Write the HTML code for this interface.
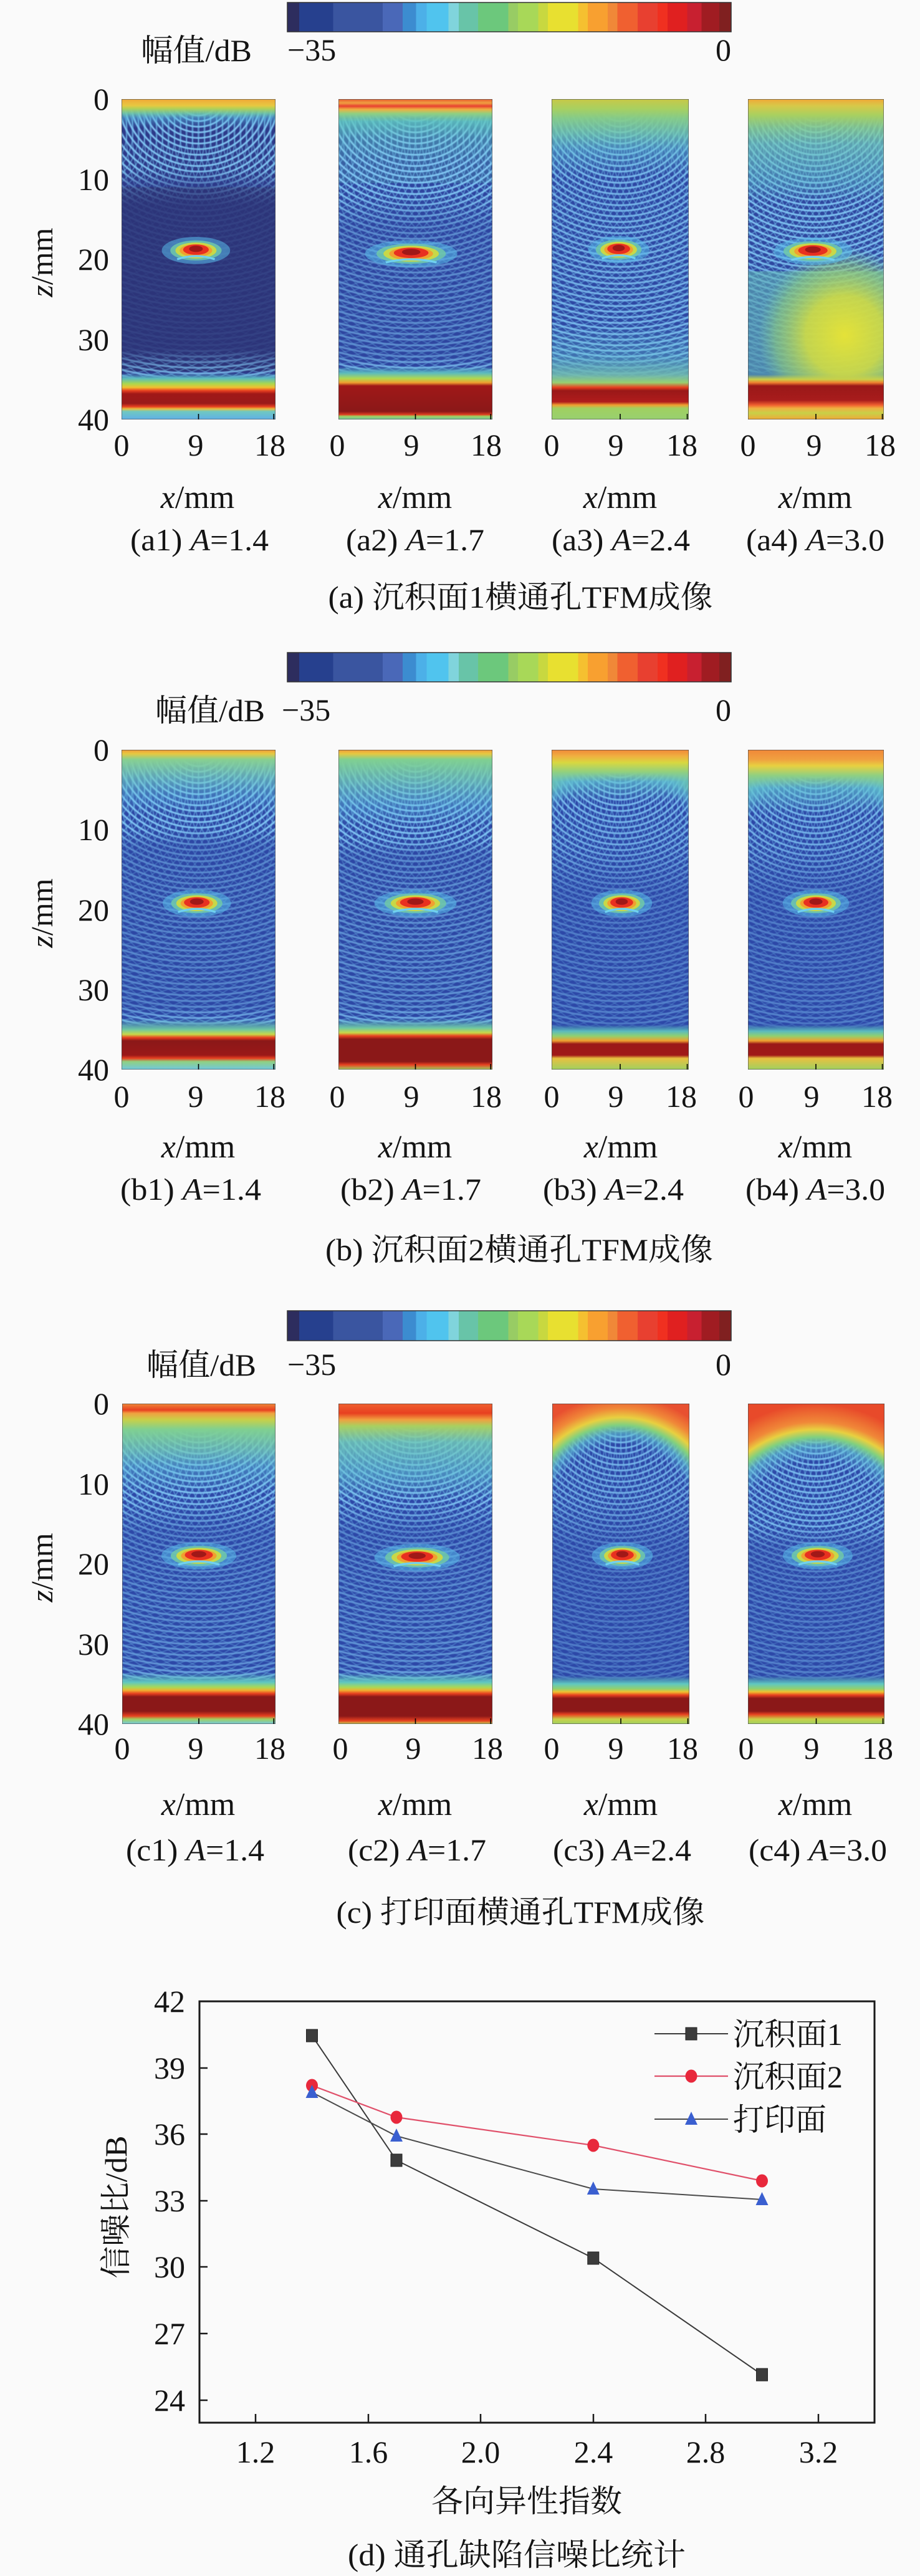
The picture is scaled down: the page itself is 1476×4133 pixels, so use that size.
<!DOCTYPE html>
<html><head><meta charset="utf-8"><style>
html,body{margin:0;padding:0;background:#fafafa;}
svg{display:block;}
text{font-family:"Liberation Serif","Noto Serif CJK SC",serif;font-size:50px;fill:#141414;}
.it{font-style:italic;}
</style></head><body>
<svg xmlns="http://www.w3.org/2000/svg" width="1476" height="4133" viewBox="0 0 1476 4133">
<defs>
<linearGradient id="cb" x1="0" x2="1" y1="0" y2="0">
<stop offset="0" stop-color="#2d2d5e"/><stop offset=".027" stop-color="#2d2d5e"/>
<stop offset=".027" stop-color="#26408e"/><stop offset=".103" stop-color="#26408e"/>
<stop offset=".103" stop-color="#3a55a0"/><stop offset=".215" stop-color="#3a55a0"/>
<stop offset=".215" stop-color="#4a68b8"/><stop offset=".26" stop-color="#4a68b8"/>
<stop offset=".26" stop-color="#3c8cd0"/><stop offset=".29" stop-color="#3c8cd0"/>
<stop offset=".29" stop-color="#4cb0e8"/><stop offset=".314" stop-color="#4cb0e8"/>
<stop offset=".314" stop-color="#50c4ee"/><stop offset=".363" stop-color="#50c4ee"/>
<stop offset=".363" stop-color="#80d4dc"/><stop offset=".386" stop-color="#80d4dc"/>
<stop offset=".386" stop-color="#68c4a8"/><stop offset=".43" stop-color="#68c4a8"/>
<stop offset=".43" stop-color="#6cc87c"/><stop offset=".498" stop-color="#6cc87c"/>
<stop offset=".498" stop-color="#98cc64"/><stop offset=".52" stop-color="#98cc64"/>
<stop offset=".52" stop-color="#a8d858"/><stop offset=".565" stop-color="#a8d858"/>
<stop offset=".565" stop-color="#c8d840"/><stop offset=".587" stop-color="#c8d840"/>
<stop offset=".587" stop-color="#e8e030"/><stop offset=".655" stop-color="#e8e030"/>
<stop offset=".655" stop-color="#f5c030"/><stop offset=".677" stop-color="#f5c030"/>
<stop offset=".677" stop-color="#f8a030"/><stop offset=".722" stop-color="#f8a030"/>
<stop offset=".722" stop-color="#f08838"/><stop offset=".744" stop-color="#f08838"/>
<stop offset=".744" stop-color="#f06030"/><stop offset=".789" stop-color="#f06030"/>
<stop offset=".789" stop-color="#e84030"/><stop offset=".834" stop-color="#e84030"/>
<stop offset=".834" stop-color="#f03020"/><stop offset=".857" stop-color="#f03020"/>
<stop offset=".857" stop-color="#e02020"/><stop offset=".901" stop-color="#e02020"/>
<stop offset=".901" stop-color="#c82030"/><stop offset=".933" stop-color="#c82030"/>
<stop offset=".933" stop-color="#a01c22"/><stop offset=".973" stop-color="#a01c22"/>
<stop offset=".973" stop-color="#802020"/><stop offset="1" stop-color="#802020"/>
</linearGradient>

<radialGradient id="ringA" gradientUnits="userSpaceOnUse" cx="90" cy="-4" r="7" spreadMethod="repeat">
<stop offset="0" stop-color="#8fd6ff" stop-opacity="0"/><stop offset=".22" stop-color="#8fd6ff" stop-opacity="0"/>
<stop offset=".5" stop-color="#8fd6ff" stop-opacity="1"/><stop offset=".78" stop-color="#8fd6ff" stop-opacity="0"/>
<stop offset="1" stop-color="#8fd6ff" stop-opacity="0"/></radialGradient>
<radialGradient id="ringB" gradientUnits="userSpaceOnUse" cx="-60" cy="40" r="7" spreadMethod="repeat">
<stop offset="0" stop-color="#78c8f4" stop-opacity="0"/><stop offset=".3" stop-color="#78c8f4" stop-opacity="0"/>
<stop offset=".5" stop-color="#78c8f4" stop-opacity="1"/><stop offset=".7" stop-color="#78c8f4" stop-opacity="0"/>
<stop offset="1" stop-color="#78c8f4" stop-opacity="0"/></radialGradient>
<radialGradient id="ringC" gradientUnits="userSpaceOnUse" cx="240" cy="40" r="7" spreadMethod="repeat">
<stop offset="0" stop-color="#78c8f4" stop-opacity="0"/><stop offset=".3" stop-color="#78c8f4" stop-opacity="0"/>
<stop offset=".5" stop-color="#78c8f4" stop-opacity="1"/><stop offset=".7" stop-color="#78c8f4" stop-opacity="0"/>
<stop offset="1" stop-color="#78c8f4" stop-opacity="0"/></radialGradient>

<g id="rings">
<rect width="180" height="400" fill="url(#ringA)" opacity=".95"/>
<rect width="180" height="400" fill="url(#ringB)" opacity=".5"/>
<rect width="180" height="400" fill="url(#ringC)" opacity=".5"/>
</g>

<g id="def">
<ellipse rx="40" ry="17" fill="#58b8e8" opacity=".55"/>
<ellipse rx="30" ry="12.5" fill="#70c8a8" opacity=".85"/>
<ellipse rx="24" ry="10" fill="#c8d848"/>
<ellipse rx="19" ry="8" fill="#f0a030"/>
<ellipse cy="-1" rx="15" ry="6.5" fill="#e83020"/>
<ellipse cy="-2" rx="8" ry="4" fill="#a01818"/>
<path d="M-22 11 Q0 3 22 11" stroke="#70d0f0" stroke-width="2.5" fill="none"/>
</g>

<g id="frm">
<rect x="0" y="0" width="180" height="400" fill="none" stroke="#4a4a4a" stroke-width="1.2" vector-effect="non-scaling-stroke"/>
<line x1="90" y1="393" x2="90" y2="400" stroke="#000" stroke-width="1.6" vector-effect="non-scaling-stroke"/>
<line x1="178" y1="393" x2="178" y2="400" stroke="#000" stroke-width="1.6" vector-effect="non-scaling-stroke"/>
</g>

<!-- ring masks -->
<linearGradient id="gm_a1" x1="0" y1="0" x2="0" y2="1"><stop offset="0" stop-color="#fff" stop-opacity="0"/><stop offset=".04" stop-color="#fff" stop-opacity="1"/><stop offset=".22" stop-color="#fff" stop-opacity="1"/><stop offset=".28" stop-color="#fff" stop-opacity=".35"/><stop offset=".33" stop-color="#fff" stop-opacity=".1"/><stop offset=".78" stop-color="#fff" stop-opacity=".1"/><stop offset=".83" stop-color="#fff" stop-opacity=".7"/><stop offset=".86" stop-color="#fff" stop-opacity=".9"/><stop offset=".88" stop-color="#fff" stop-opacity="0"/></linearGradient>
<linearGradient id="gm_a2" x1="0" y1="0" x2="0" y2="1"><stop offset="0" stop-color="#fff" stop-opacity="0"/><stop offset=".06" stop-color="#fff" stop-opacity=".8"/><stop offset=".1" stop-color="#fff" stop-opacity="1"/><stop offset=".3" stop-color="#fff" stop-opacity="1"/><stop offset=".4" stop-color="#fff" stop-opacity=".6"/><stop offset=".8" stop-color="#fff" stop-opacity=".6"/><stop offset=".84" stop-color="#fff" stop-opacity=".9"/><stop offset=".86" stop-color="#fff" stop-opacity="0"/></linearGradient>
<linearGradient id="gm_a3" x1="0" y1="0" x2="0" y2="1"><stop offset="0" stop-color="#fff" stop-opacity="0"/><stop offset=".1" stop-color="#fff" stop-opacity="1"/><stop offset=".3" stop-color="#fff" stop-opacity=".9"/><stop offset=".6" stop-color="#fff" stop-opacity=".9"/><stop offset=".8" stop-color="#fff" stop-opacity="1"/><stop offset=".88" stop-color="#fff" stop-opacity=".3"/><stop offset=".9" stop-color="#fff" stop-opacity="0"/></linearGradient>
<linearGradient id="gm_a4" x1="0" y1="0" x2="0" y2="1"><stop offset="0" stop-color="#fff" stop-opacity="0"/><stop offset=".1" stop-color="#fff" stop-opacity="1"/><stop offset=".5" stop-color="#fff" stop-opacity="1"/><stop offset=".6" stop-color="#fff" stop-opacity=".7"/><stop offset=".85" stop-color="#fff" stop-opacity=".4"/><stop offset=".86" stop-color="#fff" stop-opacity="0"/></linearGradient>
<linearGradient id="gm_b1" x1="0" y1="0" x2="0" y2="1"><stop offset="0" stop-color="#fff" stop-opacity="0"/><stop offset=".04" stop-color="#fff" stop-opacity="1"/><stop offset=".25" stop-color="#fff" stop-opacity="1"/><stop offset=".3" stop-color="#fff" stop-opacity=".55"/><stop offset=".8" stop-color="#fff" stop-opacity=".55"/><stop offset=".85" stop-color="#fff" stop-opacity=".9"/><stop offset=".87" stop-color="#fff" stop-opacity="0"/></linearGradient>
<linearGradient id="gm_b2" x1="0" y1="0" x2="0" y2="1"><stop offset="0" stop-color="#fff" stop-opacity="0"/><stop offset=".04" stop-color="#fff" stop-opacity="1"/><stop offset=".28" stop-color="#fff" stop-opacity="1"/><stop offset=".33" stop-color="#fff" stop-opacity=".6"/><stop offset=".8" stop-color="#fff" stop-opacity=".65"/><stop offset=".85" stop-color="#fff" stop-opacity=".9"/><stop offset=".87" stop-color="#fff" stop-opacity="0"/></linearGradient>
<linearGradient id="gm_b3" x1="0" y1="0" x2="0" y2="1"><stop offset="0" stop-color="#fff" stop-opacity="0"/><stop offset=".08" stop-color="#fff" stop-opacity="1"/><stop offset=".3" stop-color="#fff" stop-opacity=".85"/><stop offset=".45" stop-color="#fff" stop-opacity=".45"/><stop offset=".85" stop-color="#fff" stop-opacity=".5"/><stop offset=".88" stop-color="#fff" stop-opacity="0"/></linearGradient>
<linearGradient id="gm_c1" x1="0" y1="0" x2="0" y2="1"><stop offset="0" stop-color="#fff" stop-opacity="0"/><stop offset=".06" stop-color="#fff" stop-opacity="1"/><stop offset=".3" stop-color="#fff" stop-opacity="1"/><stop offset=".4" stop-color="#fff" stop-opacity=".55"/><stop offset=".82" stop-color="#fff" stop-opacity=".65"/><stop offset=".86" stop-color="#fff" stop-opacity=".9"/><stop offset=".87" stop-color="#fff" stop-opacity="0"/></linearGradient>
<linearGradient id="gm_c3" x1="0" y1="0" x2="0" y2="1"><stop offset="0" stop-color="#fff" stop-opacity="0"/><stop offset=".1" stop-color="#fff" stop-opacity=".9"/><stop offset=".3" stop-color="#fff" stop-opacity=".85"/><stop offset=".45" stop-color="#fff" stop-opacity=".45"/><stop offset=".85" stop-color="#fff" stop-opacity=".45"/><stop offset=".87" stop-color="#fff" stop-opacity="0"/></linearGradient>
<linearGradient id="gm_c4" x1="0" y1="0" x2="0" y2="1"><stop offset="0" stop-color="#fff" stop-opacity="0"/><stop offset=".1" stop-color="#fff" stop-opacity=".95"/><stop offset=".38" stop-color="#fff" stop-opacity=".95"/><stop offset=".45" stop-color="#fff" stop-opacity=".5"/><stop offset=".85" stop-color="#fff" stop-opacity=".5"/><stop offset=".87" stop-color="#fff" stop-opacity="0"/></linearGradient>
<mask id="m_a1" maskUnits="userSpaceOnUse" x="0" y="0" width="180" height="400"><rect width="180" height="400" fill="url(#gm_a1)"/></mask>
<mask id="m_a2" maskUnits="userSpaceOnUse" x="0" y="0" width="180" height="400"><rect width="180" height="400" fill="url(#gm_a2)"/></mask>
<mask id="m_a3" maskUnits="userSpaceOnUse" x="0" y="0" width="180" height="400"><rect width="180" height="400" fill="url(#gm_a3)"/></mask>
<mask id="m_a4" maskUnits="userSpaceOnUse" x="0" y="0" width="180" height="400"><rect width="180" height="400" fill="url(#gm_a4)"/></mask>
<mask id="m_b1" maskUnits="userSpaceOnUse" x="0" y="0" width="180" height="400"><rect width="180" height="400" fill="url(#gm_b1)"/></mask>
<mask id="m_b2" maskUnits="userSpaceOnUse" x="0" y="0" width="180" height="400"><rect width="180" height="400" fill="url(#gm_b2)"/></mask>
<mask id="m_b3" maskUnits="userSpaceOnUse" x="0" y="0" width="180" height="400"><rect width="180" height="400" fill="url(#gm_b3)"/></mask>
<mask id="m_c1" maskUnits="userSpaceOnUse" x="0" y="0" width="180" height="400"><rect width="180" height="400" fill="url(#gm_c1)"/></mask>
<mask id="m_c3" maskUnits="userSpaceOnUse" x="0" y="0" width="180" height="400"><rect width="180" height="400" fill="url(#gm_c3)"/></mask>
<mask id="m_c4" maskUnits="userSpaceOnUse" x="0" y="0" width="180" height="400"><rect width="180" height="400" fill="url(#gm_c4)"/></mask>

<!-- top bands -->
<linearGradient id="t_a1" x1="0" y1="0" x2="0" y2="1"><stop offset="0" stop-color="#f0a838"/><stop offset=".02" stop-color="#e8c840"/><stop offset=".03" stop-color="#b0d058"/><stop offset=".045" stop-color="#70c8a8" stop-opacity=".9"/><stop offset=".06" stop-color="#58b8e0" stop-opacity=".5"/><stop offset=".09" stop-color="#58b8e0" stop-opacity="0"/></linearGradient>
<linearGradient id="t_a2" x1="0" y1="0" x2="0" y2="1"><stop offset="0" stop-color="#e85a30"/><stop offset=".012" stop-color="#f0a040"/><stop offset=".022" stop-color="#e84030"/><stop offset=".032" stop-color="#f0b040"/><stop offset=".045" stop-color="#90d080"/><stop offset=".07" stop-color="#60c8c0" stop-opacity=".8"/><stop offset=".12" stop-color="#60c8c0" stop-opacity=".3"/><stop offset=".2" stop-color="#60c8c0" stop-opacity="0"/></linearGradient>
<linearGradient id="t_a3" x1="0" y1="0" x2="0" y2="1"><stop offset="0" stop-color="#c8c848"/><stop offset=".03" stop-color="#a8d060"/><stop offset=".06" stop-color="#88d088" stop-opacity=".95"/><stop offset=".11" stop-color="#70c8b0" stop-opacity=".8"/><stop offset=".16" stop-color="#60c0d0" stop-opacity=".45"/><stop offset=".24" stop-color="#60c0d0" stop-opacity="0"/></linearGradient>
<linearGradient id="t_a4" x1="0" y1="0" x2="0" y2="1"><stop offset="0" stop-color="#f0a838"/><stop offset=".02" stop-color="#d8c848"/><stop offset=".05" stop-color="#a8d060"/><stop offset=".09" stop-color="#88d090" stop-opacity=".85"/><stop offset=".14" stop-color="#70c8b8" stop-opacity=".7"/><stop offset=".26" stop-color="#60c0c8" stop-opacity=".4"/><stop offset=".32" stop-color="#60c0c8" stop-opacity="0"/></linearGradient>
<linearGradient id="t_b1" x1="0" y1="0" x2="0" y2="1"><stop offset="0" stop-color="#f09838"/><stop offset=".012" stop-color="#e8c840"/><stop offset=".03" stop-color="#88d090"/><stop offset=".09" stop-color="#70c8c0" stop-opacity=".7"/><stop offset=".15" stop-color="#60c0e0" stop-opacity=".3"/><stop offset=".2" stop-color="#60c0e0" stop-opacity="0"/></linearGradient>
<linearGradient id="t_b2" x1="0" y1="0" x2="0" y2="1"><stop offset="0" stop-color="#f09838"/><stop offset=".012" stop-color="#e8c840"/><stop offset=".03" stop-color="#80d090"/><stop offset=".1" stop-color="#70c8b8" stop-opacity=".75"/><stop offset=".18" stop-color="#60c0e0" stop-opacity=".35"/><stop offset=".24" stop-color="#60c0e0" stop-opacity="0"/></linearGradient>
<linearGradient id="t_b3" x1="0" y1="0" x2="0" y2="1"><stop offset="0" stop-color="#f08838"/><stop offset=".02" stop-color="#f0b040"/><stop offset=".04" stop-color="#d8d840"/><stop offset=".07" stop-color="#90d080"/><stop offset=".1" stop-color="#60c0d0" stop-opacity=".7"/><stop offset=".16" stop-color="#60c0d0" stop-opacity="0"/></linearGradient>
<linearGradient id="t_b4" x1="0" y1="0" x2="0" y2="1"><stop offset="0" stop-color="#f08838"/><stop offset=".03" stop-color="#f0a040"/><stop offset=".05" stop-color="#e8d040"/><stop offset=".08" stop-color="#90d080"/><stop offset=".12" stop-color="#60c0d0" stop-opacity=".7"/><stop offset=".2" stop-color="#60c0d0" stop-opacity="0"/></linearGradient>
<linearGradient id="t_c1" x1="0" y1="0" x2="0" y2="1"><stop offset="0" stop-color="#f08838"/><stop offset=".02" stop-color="#e84020"/><stop offset=".03" stop-color="#f0a040"/><stop offset=".05" stop-color="#c8d048"/><stop offset=".08" stop-color="#80d090"/><stop offset=".15" stop-color="#70c8b8" stop-opacity=".75"/><stop offset=".2" stop-color="#60c0d8" stop-opacity=".45"/><stop offset=".28" stop-color="#60c0d8" stop-opacity="0"/></linearGradient>
<linearGradient id="t_c2" x1="0" y1="0" x2="0" y2="1"><stop offset="0" stop-color="#f06030"/><stop offset=".03" stop-color="#e84020"/><stop offset=".05" stop-color="#f0a040"/><stop offset=".07" stop-color="#a8d060"/><stop offset=".12" stop-color="#70c8b8" stop-opacity=".85"/><stop offset=".22" stop-color="#60c0d0" stop-opacity=".55"/><stop offset=".3" stop-color="#60c0d0" stop-opacity="0"/></linearGradient>
<radialGradient id="d_c3" gradientUnits="userSpaceOnUse" cx="90" cy="150" r="160"><stop offset="0" stop-color="#60c0e0" stop-opacity="0"/><stop offset=".62" stop-color="#60c0e0" stop-opacity="0"/><stop offset=".7" stop-color="#60c0d0" stop-opacity=".6"/><stop offset=".77" stop-color="#80d080"/><stop offset=".83" stop-color="#e8d040"/><stop offset=".9" stop-color="#f08838"/><stop offset="1" stop-color="#e85030"/></radialGradient>
<radialGradient id="d_c4" gradientUnits="userSpaceOnUse" cx="90" cy="190" r="190"><stop offset="0" stop-color="#60c0e0" stop-opacity="0"/><stop offset=".62" stop-color="#60c0e0" stop-opacity="0"/><stop offset=".72" stop-color="#60c0d0" stop-opacity=".6"/><stop offset=".78" stop-color="#80d080"/><stop offset=".83" stop-color="#e8d040"/><stop offset=".88" stop-color="#f08838"/><stop offset="1" stop-color="#e84a2a"/></radialGradient>
<radialGradient id="d_b3" gradientUnits="userSpaceOnUse" cx="90" cy="150" r="160"><stop offset="0" stop-color="#60c0e0" stop-opacity="0"/><stop offset=".7" stop-color="#60c0e0" stop-opacity="0"/><stop offset=".8" stop-color="#60c0d0" stop-opacity=".5"/><stop offset=".87" stop-color="#80d080" stop-opacity=".8"/><stop offset="1" stop-color="#c8d848" stop-opacity=".9"/></radialGradient>
<radialGradient id="y_a4" cx=".5" cy=".5" r=".5"><stop offset="0" stop-color="#e4e238" stop-opacity="1"/><stop offset=".45" stop-color="#d0dc44" stop-opacity=".9"/><stop offset=".8" stop-color="#98d470" stop-opacity=".5"/><stop offset="1" stop-color="#80d0a0" stop-opacity="0"/></radialGradient>

<!-- bottom bands -->
<linearGradient id="b_a1" x1="0" y1="0" x2="0" y2="1"><stop offset=".855" stop-color="#5cb8e8" stop-opacity="0"/><stop offset=".872" stop-color="#60c8c0" stop-opacity=".9"/><stop offset=".888" stop-color="#a8d850"/><stop offset=".9" stop-color="#f0c030"/><stop offset=".91" stop-color="#e84020"/><stop offset=".92" stop-color="#a01818"/><stop offset=".95" stop-color="#9a1a1a"/><stop offset=".96" stop-color="#e84020"/><stop offset=".967" stop-color="#e8c040"/><stop offset=".975" stop-color="#70c8c0"/><stop offset="1" stop-color="#60b0e8"/></linearGradient>
<linearGradient id="b_a2" x1="0" y1="0" x2="0" y2="1"><stop offset=".835" stop-color="#5cc0d0" stop-opacity="0"/><stop offset=".855" stop-color="#60c8c0" stop-opacity=".9"/><stop offset=".872" stop-color="#b0d850"/><stop offset=".885" stop-color="#f0a030"/><stop offset=".895" stop-color="#a01818"/><stop offset=".975" stop-color="#8b1818"/><stop offset=".985" stop-color="#e04020"/><stop offset=".99" stop-color="#a0d060"/><stop offset="1" stop-color="#70c8a0"/></linearGradient>
<linearGradient id="b_a3" x1="0" y1="0" x2="0" y2="1"><stop offset=".7" stop-color="#60c0c8" stop-opacity="0"/><stop offset=".8" stop-color="#60c0c8" stop-opacity=".35"/><stop offset=".86" stop-color="#78c8b0" stop-opacity=".8"/><stop offset=".885" stop-color="#98d070"/><stop offset=".9" stop-color="#e84020"/><stop offset=".91" stop-color="#9a1818"/><stop offset=".945" stop-color="#b01c1c"/><stop offset=".955" stop-color="#f0a030"/><stop offset=".965" stop-color="#a0d060"/><stop offset="1" stop-color="#98d070"/></linearGradient>
<linearGradient id="b_a4" x1="0" y1="0" x2="0" y2="1"><stop offset=".86" stop-color="#c8d048" stop-opacity="0"/><stop offset=".875" stop-color="#c8d048"/><stop offset=".885" stop-color="#f08030"/><stop offset=".895" stop-color="#9a1818"/><stop offset=".94" stop-color="#a81c1c"/><stop offset=".955" stop-color="#f06030"/><stop offset=".965" stop-color="#f0b040"/><stop offset=".98" stop-color="#c8d048"/><stop offset="1" stop-color="#f0a838"/></linearGradient>
<linearGradient id="b_b1" x1="0" y1="0" x2="0" y2="1"><stop offset=".84" stop-color="#60c0c8" stop-opacity="0"/><stop offset=".875" stop-color="#70c8a0"/><stop offset=".89" stop-color="#c8d848"/><stop offset=".9" stop-color="#e84020"/><stop offset=".91" stop-color="#8b1818"/><stop offset=".955" stop-color="#9a1818"/><stop offset=".965" stop-color="#e84020"/><stop offset=".975" stop-color="#90d080"/><stop offset="1" stop-color="#70c8e0"/></linearGradient>
<linearGradient id="b_b2" x1="0" y1="0" x2="0" y2="1"><stop offset=".84" stop-color="#60c0c8" stop-opacity="0"/><stop offset=".87" stop-color="#70c8a0"/><stop offset=".885" stop-color="#c8d848"/><stop offset=".895" stop-color="#e84020"/><stop offset=".905" stop-color="#8b1818"/><stop offset=".975" stop-color="#8b1818"/><stop offset=".985" stop-color="#e84020"/><stop offset="1" stop-color="#a0d060"/></linearGradient>
<linearGradient id="b_b3" x1="0" y1="0" x2="0" y2="1"><stop offset=".86" stop-color="#60c8c0" stop-opacity="0"/><stop offset=".88" stop-color="#60c8c0" stop-opacity=".9"/><stop offset=".895" stop-color="#90d070"/><stop offset=".91" stop-color="#f0a030"/><stop offset=".92" stop-color="#9a1818"/><stop offset=".955" stop-color="#a01818"/><stop offset=".965" stop-color="#e8c040"/><stop offset="1" stop-color="#a0d060"/></linearGradient>
<linearGradient id="b_c1" x1="0" y1="0" x2="0" y2="1"><stop offset=".84" stop-color="#60c8c0" stop-opacity="0"/><stop offset=".87" stop-color="#60c8c0"/><stop offset=".885" stop-color="#a8d858"/><stop offset=".895" stop-color="#f0b030"/><stop offset=".905" stop-color="#e84020"/><stop offset=".915" stop-color="#8b1818"/><stop offset=".96" stop-color="#8b1818"/><stop offset=".975" stop-color="#e84020"/><stop offset=".985" stop-color="#a0d060"/><stop offset="1" stop-color="#70c8e0"/></linearGradient>
<linearGradient id="b_c2" x1="0" y1="0" x2="0" y2="1"><stop offset=".84" stop-color="#60c8c0" stop-opacity="0"/><stop offset=".87" stop-color="#60c8c0"/><stop offset=".885" stop-color="#a8d858"/><stop offset=".895" stop-color="#f0b030"/><stop offset=".905" stop-color="#e84020"/><stop offset=".915" stop-color="#8b1818"/><stop offset=".975" stop-color="#8b1818"/><stop offset=".99" stop-color="#e84020"/><stop offset="1" stop-color="#c0d050"/></linearGradient>
<linearGradient id="b_c3" x1="0" y1="0" x2="0" y2="1"><stop offset=".85" stop-color="#60c8c0" stop-opacity="0"/><stop offset=".875" stop-color="#60c8c0"/><stop offset=".89" stop-color="#90d070"/><stop offset=".9" stop-color="#f0c030"/><stop offset=".91" stop-color="#e84020"/><stop offset=".92" stop-color="#8b1818"/><stop offset=".96" stop-color="#8b1818"/><stop offset=".97" stop-color="#e84020"/><stop offset=".985" stop-color="#c8d048"/><stop offset="1" stop-color="#a0d060"/></linearGradient>
</defs>

<rect width="1476" height="4133" fill="#fafafa"/>

<!-- ================= SECTION A ================= -->
<rect x="461" y="4" width="712" height="47" fill="url(#cb)" stroke="#333" stroke-width="1.5"/>
<text x="226" y="98" textLength="178" lengthAdjust="spacingAndGlyphs">幅值/dB</text>
<text x="461" y="97">−35</text>
<text x="1173" y="97" text-anchor="end">0</text>

<!-- a1 -->
<svg x="195" y="159" width="247" height="514" viewBox="0 0 180 400" preserveAspectRatio="none">
<rect width="180" height="400" fill="#2d3a8a"/>
<rect y="110" width="180" height="230" fill="#2b2f6c" opacity=".55"/>
<g mask="url(#m_a1)"><use href="#rings"/></g>
<rect width="180" height="400" fill="url(#t_a1)"/>
<rect width="180" height="400" fill="url(#b_a1)"/>
<use href="#def" transform="translate(87,189)"/>
<use href="#frm"/>
</svg>
<!-- a2 -->
<svg x="543" y="159" width="247" height="514" viewBox="0 0 180 400" preserveAspectRatio="none">
<rect width="180" height="400" fill="#2e45a0"/>
<rect y="25" width="180" height="80" fill="#60c8b0" opacity=".22"/>
<g mask="url(#m_a2)"><use href="#rings"/></g>
<rect width="180" height="400" fill="url(#t_a2)"/>
<rect width="180" height="400" fill="url(#b_a2)"/>
<use href="#def" transform="translate(85,193) scale(1.35,1)"/>
<use href="#frm"/>
</svg>
<!-- a3 -->
<svg x="885" y="159" width="220" height="514" viewBox="0 0 180 400" preserveAspectRatio="none">
<rect width="180" height="400" fill="#2e48a4"/>
<g mask="url(#m_a3)"><use href="#rings"/></g>
<rect width="180" height="400" fill="url(#t_a3)"/>
<rect width="180" height="400" fill="url(#b_a3)"/>
<use href="#def" transform="translate(88,188)"/>
<use href="#frm"/>
</svg>
<!-- a4 -->
<svg x="1200" y="159" width="218" height="514" viewBox="0 0 180 400" preserveAspectRatio="none">
<rect width="180" height="400" fill="#2f47a0"/>
<g mask="url(#m_a4)"><use href="#rings"/></g>
<rect y="215" width="180" height="140" fill="#68c4b8" opacity=".5"/>
<ellipse cx="128" cy="295" rx="115" ry="110" fill="url(#y_a4)"/>
<rect width="180" height="400" fill="url(#t_a4)"/>
<rect width="180" height="400" fill="url(#b_a4)"/>
<use href="#def" transform="translate(86,190) scale(1.3,1)"/>
<use href="#frm"/>
</svg>

<g text-anchor="end">
<text x="175" y="176">0</text><text x="175" y="305">10</text><text x="175" y="433">20</text><text x="175" y="562">30</text><text x="175" y="690">40</text>
</g>
<text transform="translate(84,421) rotate(-90)" text-anchor="middle"><tspan class="it">z</tspan>/mm</text>
<g text-anchor="middle">
<text x="195" y="731">0</text><text x="314" y="731">9</text><text x="433" y="731">18</text>
<text x="541" y="731">0</text><text x="660" y="731">9</text><text x="780" y="731">18</text>
<text x="885" y="731">0</text><text x="988" y="731">9</text><text x="1094" y="731">18</text>
<text x="1200" y="731">0</text><text x="1306" y="731">9</text><text x="1412" y="731">18</text>
<text x="317" y="815" style="font-size:52px"><tspan class="it">x</tspan>/mm</text>
<text x="666" y="815" style="font-size:52px"><tspan class="it">x</tspan>/mm</text>
<text x="995" y="815" style="font-size:52px"><tspan class="it">x</tspan>/mm</text>
<text x="1308" y="815" style="font-size:52px"><tspan class="it">x</tspan>/mm</text>
<text x="320" y="883" textLength="222" lengthAdjust="spacingAndGlyphs">(a1) <tspan class="it">A</tspan>=1.4</text>
<text x="666" y="883" textLength="222" lengthAdjust="spacingAndGlyphs">(a2) <tspan class="it">A</tspan>=1.7</text>
<text x="996" y="883" textLength="222" lengthAdjust="spacingAndGlyphs">(a3) <tspan class="it">A</tspan>=2.4</text>
<text x="1308" y="883" textLength="222" lengthAdjust="spacingAndGlyphs">(a4) <tspan class="it">A</tspan>=3.0</text>
<text x="835" y="975" textLength="617" lengthAdjust="spacingAndGlyphs">(a) 沉积面1横通孔TFM成像</text>
</g>

<!-- ================= SECTION B ================= -->
<rect x="461" y="1047" width="712" height="47" fill="url(#cb)" stroke="#333" stroke-width="1.5"/>
<text x="249" y="1157" textLength="176" lengthAdjust="spacingAndGlyphs">幅值/dB</text>
<text x="452" y="1156">−35</text>
<text x="1173" y="1156" text-anchor="end">0</text>

<svg x="195" y="1203" width="247" height="513" viewBox="0 0 180 400" preserveAspectRatio="none">
<rect width="180" height="400" fill="#2d47a5"/>
<g mask="url(#m_b1)"><use href="#rings"/></g>
<rect width="180" height="400" fill="url(#t_b1)"/>
<rect width="180" height="400" fill="url(#b_b1)"/>
<use href="#def" transform="translate(88,192)"/>
<use href="#frm"/>
</svg>
<svg x="543" y="1203" width="247" height="513" viewBox="0 0 180 400" preserveAspectRatio="none">
<rect width="180" height="400" fill="#2d47a5"/>
<g mask="url(#m_b2)"><use href="#rings"/></g>
<rect width="180" height="400" fill="url(#t_b2)"/>
<rect width="180" height="400" fill="url(#b_b2)"/>
<use href="#def" transform="translate(90,192) scale(1.2,1)"/>
<use href="#frm"/>
</svg>
<svg x="885" y="1203" width="220" height="513" viewBox="0 0 180 400" preserveAspectRatio="none">
<rect width="180" height="400" fill="#2d48a8"/>
<g mask="url(#m_b3)"><use href="#rings"/></g>
<rect width="180" height="130" fill="url(#d_b3)"/>
<rect width="180" height="400" fill="url(#t_b3)"/>
<rect width="180" height="400" fill="url(#b_b3)"/>
<use href="#def" transform="translate(92,192)"/>
<use href="#frm"/>
</svg>
<svg x="1200" y="1203" width="218" height="513" viewBox="0 0 180 400" preserveAspectRatio="none">
<rect width="180" height="400" fill="#2d48a8"/>
<g mask="url(#m_b3)"><use href="#rings"/></g>
<rect width="180" height="130" fill="url(#d_b3)"/>
<rect width="180" height="400" fill="url(#t_b4)"/>
<rect width="180" height="400" fill="url(#b_b3)"/>
<use href="#def" transform="translate(90,192) scale(1.1,1)"/>
<use href="#frm"/>
</svg>

<g text-anchor="end">
<text x="175" y="1220">0</text><text x="175" y="1348">10</text><text x="175" y="1477">20</text><text x="175" y="1605">30</text><text x="175" y="1733">40</text>
</g>
<text transform="translate(84,1465) rotate(-90)" text-anchor="middle"><tspan class="it">z</tspan>/mm</text>
<g text-anchor="middle">
<text x="195" y="1776">0</text><text x="314" y="1776">9</text><text x="433" y="1776">18</text>
<text x="541" y="1776">0</text><text x="660" y="1776">9</text><text x="780" y="1776">18</text>
<text x="885" y="1776">0</text><text x="988" y="1776">9</text><text x="1093" y="1776">18</text>
<text x="1197" y="1776">0</text><text x="1302" y="1776">9</text><text x="1407" y="1776">18</text>
<text x="318" y="1857" style="font-size:52px"><tspan class="it">x</tspan>/mm</text>
<text x="666" y="1857" style="font-size:52px"><tspan class="it">x</tspan>/mm</text>
<text x="996" y="1857" style="font-size:52px"><tspan class="it">x</tspan>/mm</text>
<text x="1308" y="1857" style="font-size:52px"><tspan class="it">x</tspan>/mm</text>
<text x="306" y="1925" textLength="226" lengthAdjust="spacingAndGlyphs">(b1) <tspan class="it">A</tspan>=1.4</text>
<text x="659" y="1925" textLength="226" lengthAdjust="spacingAndGlyphs">(b2) <tspan class="it">A</tspan>=1.7</text>
<text x="984" y="1925" textLength="226" lengthAdjust="spacingAndGlyphs">(b3) <tspan class="it">A</tspan>=2.4</text>
<text x="1308" y="1925" textLength="224" lengthAdjust="spacingAndGlyphs">(b4) <tspan class="it">A</tspan>=3.0</text>
<text x="833" y="2022" textLength="622" lengthAdjust="spacingAndGlyphs">(b) 沉积面2横通孔TFM成像</text>
</g>

<!-- ================= SECTION C ================= -->
<rect x="461" y="2103" width="712" height="48" fill="url(#cb)" stroke="#333" stroke-width="1.5"/>
<text x="235" y="2207" textLength="176" lengthAdjust="spacingAndGlyphs">幅值/dB</text>
<text x="461" y="2206">−35</text>
<text x="1173" y="2206" text-anchor="end">0</text>

<svg x="196" y="2252" width="246" height="514" viewBox="0 0 180 400" preserveAspectRatio="none">
<rect width="180" height="400" fill="#2d48a8"/>
<g mask="url(#m_c1)"><use href="#rings"/></g>
<rect width="180" height="400" fill="url(#t_c1)"/>
<rect width="180" height="400" fill="url(#b_c1)"/>
<use href="#def" transform="translate(90,190) scale(1.1,1)"/>
<use href="#frm"/>
</svg>
<svg x="543" y="2252" width="247" height="514" viewBox="0 0 180 400" preserveAspectRatio="none">
<rect width="180" height="400" fill="#2d48a8"/>
<g mask="url(#m_c1)"><use href="#rings"/></g>
<rect width="180" height="400" fill="url(#t_c2)"/>
<rect width="180" height="400" fill="url(#b_c2)"/>
<use href="#def" transform="translate(92,192) scale(1.25,1)"/>
<use href="#frm"/>
</svg>
<svg x="886" y="2252" width="220" height="514" viewBox="0 0 180 400" preserveAspectRatio="none">
<rect width="180" height="400" fill="#2d48a8"/>
<g mask="url(#m_c3)"><use href="#rings"/></g>
<rect width="180" height="140" fill="url(#d_c3)"/>
<rect width="180" height="400" fill="url(#b_c3)"/>
<use href="#def" transform="translate(92,190)"/>
<use href="#frm"/>
</svg>
<svg x="1200" y="2252" width="219" height="514" viewBox="0 0 180 400" preserveAspectRatio="none">
<rect width="180" height="400" fill="#2d48a8"/>
<g mask="url(#m_c4)"><use href="#rings"/></g>
<rect width="180" height="165" fill="url(#d_c4)"/>
<rect width="180" height="400" fill="url(#b_c3)"/>
<use href="#def" transform="translate(92,190) scale(1.15,1)"/>
<use href="#frm"/>
</svg>

<g text-anchor="end">
<text x="175" y="2269">0</text><text x="175" y="2398">10</text><text x="175" y="2526">20</text><text x="175" y="2655">30</text><text x="175" y="2783">40</text>
</g>
<text transform="translate(84,2515) rotate(-90)" text-anchor="middle"><tspan class="it">z</tspan>/mm</text>
<g text-anchor="middle">
<text x="196" y="2822">0</text><text x="314" y="2822">9</text><text x="433" y="2822">18</text>
<text x="546" y="2822">0</text><text x="663" y="2822">9</text><text x="782" y="2822">18</text>
<text x="885" y="2822">0</text><text x="988" y="2822">9</text><text x="1095" y="2822">18</text>
<text x="1197" y="2822">0</text><text x="1302" y="2822">9</text><text x="1408" y="2822">18</text>
<text x="318" y="2912" style="font-size:52px"><tspan class="it">x</tspan>/mm</text>
<text x="666" y="2912" style="font-size:52px"><tspan class="it">x</tspan>/mm</text>
<text x="996" y="2912" style="font-size:52px"><tspan class="it">x</tspan>/mm</text>
<text x="1308" y="2912" style="font-size:52px"><tspan class="it">x</tspan>/mm</text>
<text x="313" y="2985" textLength="222" lengthAdjust="spacingAndGlyphs">(c1) <tspan class="it">A</tspan>=1.4</text>
<text x="669" y="2985" textLength="222" lengthAdjust="spacingAndGlyphs">(c2) <tspan class="it">A</tspan>=1.7</text>
<text x="998" y="2985" textLength="222" lengthAdjust="spacingAndGlyphs">(c3) <tspan class="it">A</tspan>=2.4</text>
<text x="1312" y="2985" textLength="222" lengthAdjust="spacingAndGlyphs">(c4) <tspan class="it">A</tspan>=3.0</text>
<text x="835" y="3085" textLength="591" lengthAdjust="spacingAndGlyphs">(c) 打印面横通孔TFM成像</text>
</g>

<!-- ================= SECTION D (line chart) ================= -->
<rect x="320" y="3211" width="1083" height="676" fill="none" stroke="#1a1a1a" stroke-width="3"/>
<g stroke="#1a1a1a" stroke-width="2.5">
<line x1="410" y1="3887" x2="410" y2="3873"/><line x1="591" y1="3887" x2="591" y2="3873"/>
<line x1="771" y1="3887" x2="771" y2="3873"/><line x1="952" y1="3887" x2="952" y2="3873"/>
<line x1="1132" y1="3887" x2="1132" y2="3873"/><line x1="1313" y1="3887" x2="1313" y2="3873"/>
<line x1="320" y1="3318" x2="333" y2="3318"/><line x1="320" y1="3424" x2="333" y2="3424"/>
<line x1="320" y1="3531" x2="333" y2="3531"/><line x1="320" y1="3637" x2="333" y2="3637"/>
<line x1="320" y1="3744" x2="333" y2="3744"/><line x1="320" y1="3851" x2="333" y2="3851"/>
</g>
<g text-anchor="end">
<text x="297" y="3228">42</text><text x="297" y="3335">39</text><text x="297" y="3441">36</text>
<text x="297" y="3548">33</text><text x="297" y="3654">30</text><text x="297" y="3761">27</text><text x="297" y="3868">24</text>
</g>
<g text-anchor="middle">
<text x="410" y="3951">1.2</text><text x="591" y="3951">1.6</text><text x="771" y="3951">2.0</text>
<text x="952" y="3951">2.4</text><text x="1132" y="3951">2.8</text><text x="1313" y="3951">3.2</text>
<text x="845" y="4030" textLength="306" lengthAdjust="spacingAndGlyphs">各向异性指数</text>
<text x="829" y="4116" textLength="542" lengthAdjust="spacingAndGlyphs">(d) 通孔缺陷信噪比统计</text>
</g>
<text transform="translate(203,3541) rotate(-90)" text-anchor="middle" textLength="229" lengthAdjust="spacingAndGlyphs">信噪比/dB</text>

<!-- series lines -->
<polyline points="500.5,3266 636,3466 951.8,3623 1222.5,3810" fill="none" stroke="#3a3a3a" stroke-width="2"/>
<polyline points="500.5,3346 636,3397 951.8,3442 1222.5,3499" fill="none" stroke="#e0506a" stroke-width="2.2"/>
<polyline points="500.5,3357 636,3427 951.8,3512 1222.5,3529" fill="none" stroke="#4a4a4a" stroke-width="2"/>
<!-- markers -->
<g fill="#3c3c3c" stroke="#222" stroke-width="1">
<rect x="491.5" y="3256" width="18" height="20"/><rect x="627" y="3456" width="18" height="20"/>
<rect x="942.8" y="3613" width="18" height="20"/><rect x="1213.5" y="3800" width="18" height="20"/>
</g>
<g fill="#e8283c">
<ellipse cx="500.5" cy="3346" rx="9.5" ry="10.5"/><ellipse cx="636" cy="3397" rx="9.5" ry="10.5"/>
<ellipse cx="951.8" cy="3442" rx="9.5" ry="10.5"/><ellipse cx="1222.5" cy="3499" rx="9.5" ry="10.5"/>
</g>
<g fill="#3a5fd0">
<polygon points="500.5,3345 490.5,3366 510.5,3366"/>
<polygon points="636,3415 626,3436 646,3436"/>
<polygon points="951.8,3500 941.8,3521 961.8,3521"/>
<polygon points="1222.5,3517 1212.5,3538 1232.5,3538"/>
</g>

<!-- legend -->
<line x1="1050" y1="3263" x2="1168" y2="3263" stroke="#3a3a3a" stroke-width="2"/>
<rect x="1100" y="3253" width="18" height="20" fill="#3c3c3c" stroke="#222" stroke-width="1"/>
<line x1="1050" y1="3331" x2="1168" y2="3331" stroke="#e0506a" stroke-width="2.2"/>
<ellipse cx="1109" cy="3331" rx="9.5" ry="10.5" fill="#e8283c"/>
<line x1="1050" y1="3400" x2="1168" y2="3400" stroke="#4a4a4a" stroke-width="2"/>
<polygon points="1109,3388 1099,3409 1119,3409" fill="#3a5fd0"/>
<text x="1176" y="3281" textLength="176" lengthAdjust="spacingAndGlyphs">沉积面1</text>
<text x="1176" y="3349" textLength="176" lengthAdjust="spacingAndGlyphs">沉积面2</text>
<text x="1176" y="3418" textLength="150" lengthAdjust="spacingAndGlyphs">打印面</text>
</svg>
</body></html>
